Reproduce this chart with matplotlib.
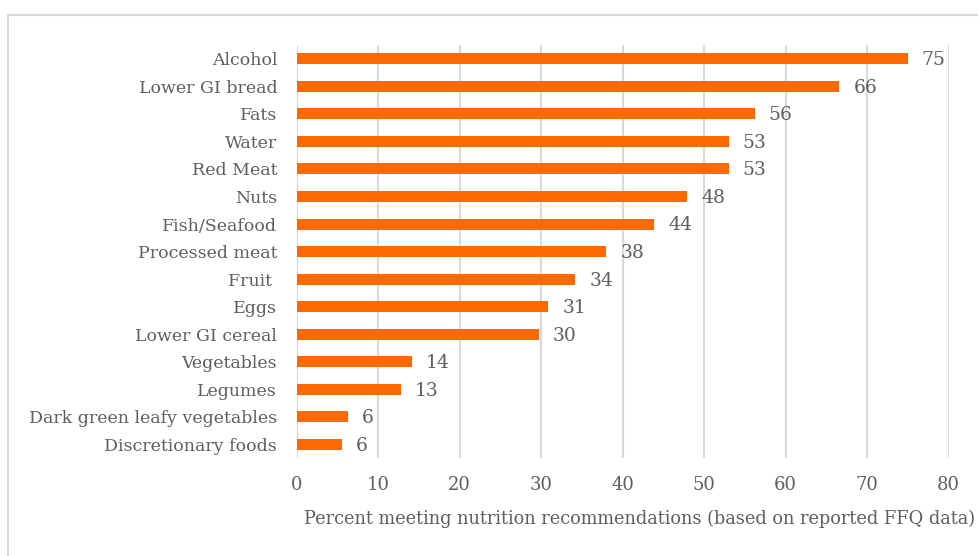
import matplotlib.pyplot as plt
from matplotlib.patches import Rectangle

# data (top to bottom)
foods = ['Alcohol', 'Lower GI bread', 'Fats', 'Water', 'Red Meat', 'Nuts',
         'Fish/Seafood', 'Processed meat', 'Fruit ', 'Eggs', 'Lower GI cereal',
         'Vegetables', 'Legumes', 'Dark green leafy vegetables',
         'Discretionary foods']
percent = [75.0, 66.6, 56.2, 53.0, 53.0, 47.9, 43.9, 38.0, 34.2, 30.9, 29.7,
           14.1, 12.8, 6.3, 5.6]
labels = ['75', '66', '56', '53', '53', '48', '44', '38', '34', '31', '30',
          '14', '13', '6', '6']

plt.rcParams['font.family'] = ['DejaVu Serif']
text_col = '#5f5f5f'
grid_col = '#d9d9d9'

fig = plt.figure(figsize=(9.79, 5.56), dpi=100)
ax = fig.add_axes([0.303, 0.176, 0.666, 0.743])

# outer chart frame (runs off the right and bottom edges)
fig.patches.append(Rectangle((8 / 979, -0.1), 1.2, 1 - 15 / 556 + 0.1,
                             transform=fig.transFigure, fill=False,
                             edgecolor=grid_col, lw=1.5))

y = list(range(len(foods)))
ax.barh(y, percent, height=0.4, color='#FF6A00')
for yi, v, lab in zip(y, percent, labels):
    ax.annotate(lab, (v, yi), xytext=(10, -1), textcoords='offset points',
                va='center', ha='left', fontsize=13.5, color=text_col)

ax.set_yticks(y)
ax.set_yticklabels(foods, fontsize=12.5, color=text_col)
ax.set_ylim(len(foods) - 0.5, -0.5)
ax.set_xlim(0, 80)
ax.set_xticks(range(0, 81, 10))
ax.tick_params(axis='x', labelsize=13, labelcolor=text_col, length=0, pad=13)
ax.tick_params(axis='y', length=0, pad=14)
ax.grid(axis='x', color=grid_col, lw=1.5)
ax.set_axisbelow(True)
for s in ax.spines.values():
    s.set_visible(False)

fig.text(304 / 979, 0.066, 'Percent meeting nutrition recommendations (based on reported FFQ data)',
         ha='left', va='center', fontsize=12.8, color=text_col)

fig.savefig('out.png', dpi=100)
